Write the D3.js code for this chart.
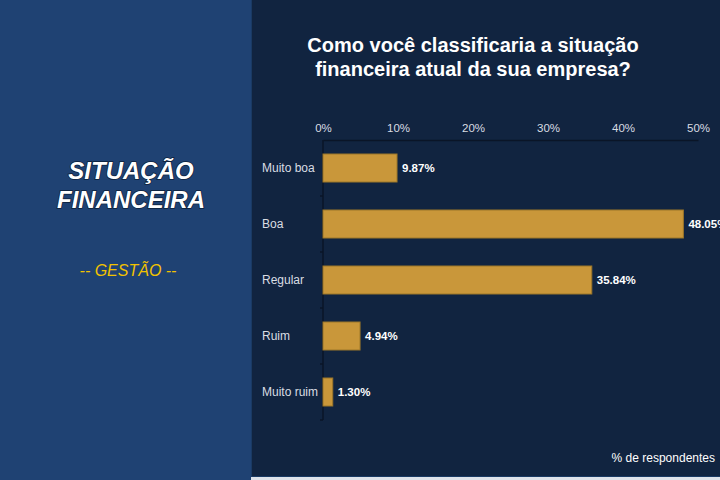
<!DOCTYPE html>
<html>
<head>
<meta charset="utf-8">
<script src="https://cdn.jsdelivr.net/npm/d3@7"></script>
<style>
  html, body { margin: 0; padding: 0; background: #dfe3ea; overflow: hidden; }
  svg { display: block; font-family: "Liberation Sans", Arial, sans-serif; }
</style>
</head>
<body>
<script>
// chart data
var categories = ['Muito boa', 'Boa', 'Regular', 'Ruim', 'Muito ruim'];
var values = [9.87, 48.05, 35.84, 4.94, 1.30];
var tickValues = [0, 10, 20, 30, 40, 50];

var width = 720, height = 480;

var svg = d3.select('body').append('svg')
  .attr('width', width)
  .attr('height', height);

// left panel
svg.append('rect').attr('x', 0).attr('y', 0).attr('width', 251).attr('height', height).attr('fill', '#1f4273');
// right panel
svg.append('rect').attr('x', 251).attr('y', 0).attr('width', width - 251).attr('height', 477).attr('fill', '#112440');
svg.append('line').attr('x1', 251.5).attr('x2', 251.5).attr('y1', 0).attr('y2', 477).attr('stroke', '#1a3a63');
svg.append('line').attr('x1', 251).attr('x2', width).attr('y1', 476.5).attr('y2', 476.5).attr('stroke', '#1a3a63');

// left side text
var leftTitle = svg.append('text')
  .attr('x', 131).attr('y', 179)
  .attr('text-anchor', 'middle')
  .attr('fill', '#ffffff')
  .attr('font-size', 24)
  .attr('font-weight', 'bold')
  .attr('font-style', 'italic')
  .style('paint-order', 'stroke')
  .attr('stroke', '#0d1f3a').attr('stroke-width', 1.5);
leftTitle.append('tspan').attr('x', 131).attr('dy', 0).text('SITUAÇÃO');
leftTitle.append('tspan').attr('x', 131).attr('dy', 29).text('FINANCEIRA');

svg.append('text')
  .attr('x', 128).attr('y', 276)
  .attr('text-anchor', 'middle')
  .attr('fill', '#f2c200')
  .attr('font-size', 16)
  .attr('font-style', 'italic')
  .text('-- GESTÃO --');

// chart title
var title = svg.append('text')
  .attr('x', 473).attr('y', 52)
  .attr('text-anchor', 'middle')
  .attr('fill', '#ffffff')
  .attr('font-size', 20)
  .attr('font-weight', 'bold');
title.append('tspan').attr('x', 473).attr('dy', 0).text('Como você classificaria a situação');
title.append('tspan').attr('x', 473).attr('dy', 24).text('financeira atual da sua empresa?');

// scales
var x = d3.scaleLinear().domain([0, 50]).range([323, 698]);
var y = d3.scaleBand().domain(categories).range([140, 420]).paddingInner(0.5).paddingOuter(0.25);

// x axis on top
var xAxis = svg.append('g')
  .attr('transform', 'translate(0,140)')
  .call(d3.axisTop(x).tickValues(tickValues).tickSize(0).tickPadding(8).tickFormat(function(d) { return d + '%'; }));
xAxis.select('.domain').attr('stroke', '#0a1527').attr('stroke-width', 1.5);
xAxis.selectAll('text').attr('fill', '#d9dde3').attr('font-size', 11.5).attr('font-family', '"Liberation Sans", Arial, sans-serif');

// y axis line and ticks
var yTicks = d3.range(0, categories.length + 1).map(function(i) { return 140 + i * y.step(); });
svg.append('line')
  .attr('x1', x(0)).attr('x2', x(0))
  .attr('y1', 140).attr('y2', 420)
  .attr('stroke', '#0a1527').attr('stroke-width', 1.5);
svg.selectAll('.ytick').data(yTicks.slice(1)).enter().append('line')
  .attr('class', 'ytick')
  .attr('x1', x(0) - 3).attr('x2', x(0))
  .attr('y1', function(d) { return d; }).attr('y2', function(d) { return d; })
  .attr('stroke', '#0a1527').attr('stroke-width', 1.5);

// category labels
svg.selectAll('.cat').data(categories).enter().append('text')
  .attr('class', 'cat')
  .attr('x', 262)
  .attr('y', function(d) { return y(d) + y.bandwidth() / 2 + 4; })
  .attr('fill', '#d9dde3')
  .attr('font-size', 12)
  .text(function(d) { return d; });

// bars
svg.selectAll('.bar').data(values).enter().append('rect')
  .attr('class', 'bar')
  .attr('x', x(0))
  .attr('y', function(d, i) { return y(categories[i]); })
  .attr('width', function(d) { return x(d) - x(0); })
  .attr('height', y.bandwidth())
  .attr('fill', '#c9973a')
  .attr('stroke', '#9c7628')
  .attr('stroke-width', 1);

// value labels
svg.selectAll('.val').data(values).enter().append('text')
  .attr('class', 'val')
  .attr('x', function(d) { return x(d) + 5; })
  .attr('y', function(d, i) { return y(categories[i]) + y.bandwidth() / 2 + 4; })
  .attr('fill', '#ffffff')
  .attr('font-size', 11.5)
  .attr('font-weight', 'bold')
  .text(function(d) { return d.toFixed(2) + '%'; });

// footnote
svg.append('text')
  .attr('x', 715).attr('y', 462)
  .attr('text-anchor', 'end')
  .attr('fill', '#ffffff')
  .attr('font-size', 12)
  .text('% de respondentes');
</script>
</body>
</html>
